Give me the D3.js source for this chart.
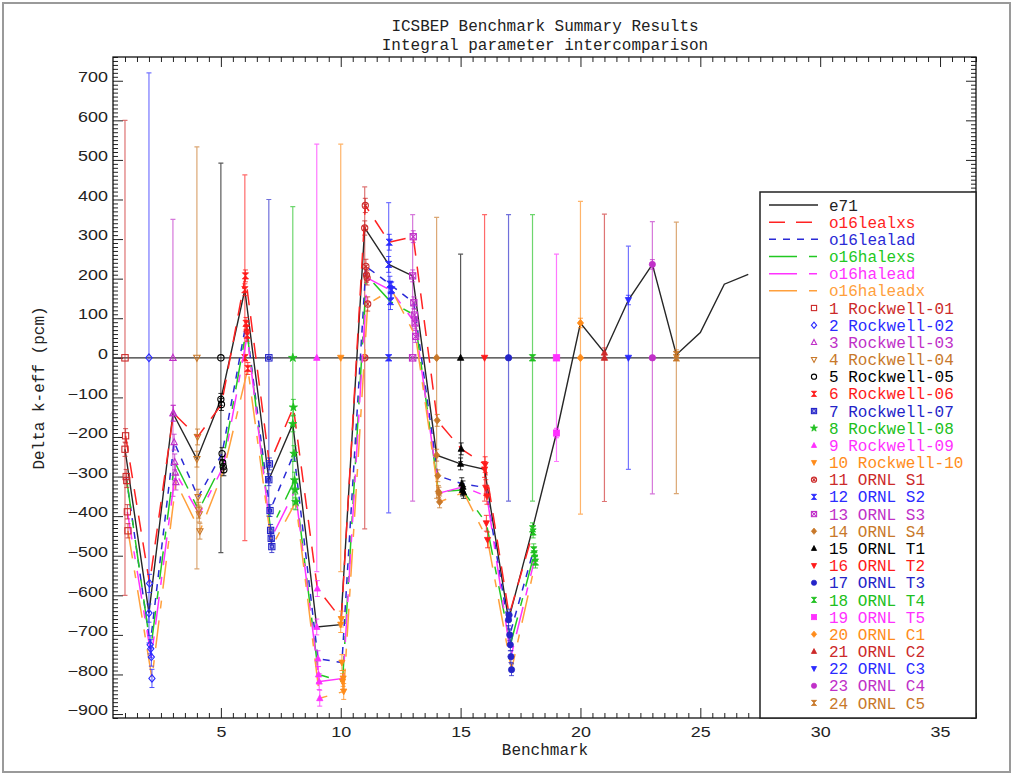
<!DOCTYPE html>
<html>
<head>
<meta charset="utf-8">
<script src="https://cdn.jsdelivr.net/npm/d3@7"></script>
<style>
  body { margin: 0; background: #fff; }
  svg text { font-family: "Liberation Mono", "DejaVu Sans Mono", monospace; }
  .tick text { font-family: "Liberation Sans", Arial, sans-serif; font-size: 14px; fill: #222; }
</style>
</head>
<body>
<script>
// ---- Benchmark names and experimental uncertainties (pcm) ----
const benchmarks = [
  "Rockwell-01", "Rockwell-02", "Rockwell-03", "Rockwell-04", "Rockwell-05",
  "Rockwell-06", "Rockwell-07", "Rockwell-08", "Rockwell-09", "Rockwell-10",
  "ORNL S1", "ORNL S2", "ORNL S3", "ORNL S4",
  "ORNL T1", "ORNL T2", "ORNL T3", "ORNL T4", "ORNL T5",
  "ORNL C1", "ORNL C2", "ORNL C3", "ORNL C4", "ORNL C5"
];
const expUnc = [600, 720, 350, 533, 492, 462, 400, 382, 540, 540, 432, 392,
                362, 355, 262, 362, 362, 362, 262, 395, 363, 282, 344, 343];

// ---- Calculated minus experimental k-eff (pcm), one array per library ----
const libraries = ["e71", "o16lealxs", "o16lealad", "o16halexs", "o16halead", "o16haleadx"];
const e71        = [-231, -645, -140, -256, -105, 172, -308, -167, -680, -674, 328, 236,
                    207, -246, -268, -282, -662, -432, -190, 88, 13, 146, 236, 8, 64, 186, 211];
const o16lealxs  = [-197, -570, -140, -200, -118, 207, -268, -125, -583, -660, 385, 292,
                    306, -158, -230, -270, -650, -440];
const o16lealad  = [-300, -725, -213, -352, -242, 87, -386, -242, -760, -770, 231, 186,
                    139, -298, -318, -328, -700, -485];
const o16halexs  = [-310, -735, -263, -385, -265, 75, -436, -309, -800, -818, 209, 142,
                    108, -338, -334, -418, -725, -495];
const o16halead  = [-389, -756, -290, -395, -275, 57, -456, -334, -818, -810, 202, 170,
                    88, -342, -326, -350, -755, -506];
const o16haleadx = [-437, -810, -314, -438, -283, -27, -477, -364, -860, -843, 136, 172,
                    54, -364, -340, -460, -788, -516];
// statistical uncertainty of the calculations (pcm)
const calcUnc = [18, 23, 20, 20, 15, 15, 15, 20, 20, 20, 18, 20,
                 15, 15, 15, 20, 15, 15, 12, 12, 12, 12, 12, 12];

// ---- Axis ticks ----
const xMajorTicks = [5, 10, 15, 20, 25, 30, 35];
const yMajorTicks = d3.range(-900, 701, 100);

// ---- Styling ----
const benchColors = ["#cc2a2a", "#2b2bff", "#c030c8", "#c8782a", "#000000",
                     "#ff1a1a", "#2424c8", "#20c020", "#ff30ff", "#ff8c1a"];
const benchSymbols = ["square", "diamond", "triangle", "triDown", "circle",
  "hourglass", "dblSquare", "star", "triFill", "triDownFill",
  "circleX", "hourglass", "squareX", "diamondFill", "triFill", "triDownFill",
  "circleFill", "hourglass", "squareFill", "diamondFill", "triFill", "triDownFill",
  "circleFill", "hourglass"];
const libColors = ["#262626", "#ff2222", "#2a2ad6", "#22c822", "#ff33ff", "#ffa03c"];
const libDash = [null, "16,11", "7,7", "28,12,8,12", "28,12,8,12", "28,12,8,12"];
const libSeries = [e71, o16lealxs, o16lealad, o16halexs, o16halead, o16haleadx];

const W = 1014, H = 776;
const M = { left: 113, right: 976, top: 57, bottom: 718 };

const svg = d3.select("body").append("svg").attr("width", W).attr("height", H);
svg.append("rect").attr("x", 3).attr("y", 3).attr("width", 1007).attr("height", 769)
  .attr("fill", "#fff").attr("stroke", "#9a9a9a").attr("stroke-width", 2);

const x = d3.scaleLinear().domain([0.5, 36.5]).range([M.left, M.right]);
const y = d3.scaleLinear().domain([-910, 760]).range([M.bottom, M.top]);

const colorOf = i => benchColors[i % benchColors.length];

// ---- Titles ----
svg.append("text").attr("x", 545).attr("y", 31).attr("text-anchor", "middle")
  .attr("font-size", 16).attr("fill", "#222").text("ICSBEP Benchmark Summary Results");
svg.append("text").attr("x", 545).attr("y", 50).attr("text-anchor", "middle")
  .attr("font-size", 16).attr("fill", "#222").text("Integral parameter intercomparison");

// ---- Axes (ticks point inward) ----
const axes = svg.append("g").attr("stroke-width", 1);
function minorTicks(step, lo, hi, majors) {
  return d3.range(lo, hi + 1e-9, step).filter(v => !majors.some(m => Math.abs(m - v) < 1e-6));
}
const xMinor = minorTicks(0.5, 1, 36.5, xMajorTicks);
const yMinor = minorTicks(10, -910, 760, yMajorTicks);

axes.append("g").attr("transform", `translate(0,${M.bottom})`)
  .call(d3.axisBottom(x).tickValues(xMinor).tickSize(-5).tickSizeOuter(0).tickFormat(""));
const xAx = axes.append("g").attr("transform", `translate(0,${M.bottom})`)
  .call(d3.axisBottom(x).tickValues(xMajorTicks).tickSize(-10).tickSizeOuter(0).tickPadding(9).tickFormat(d3.format("d")));
xAx.selectAll("text").attr("transform", "scale(1.28,1)");
axes.append("g").attr("transform", `translate(0,${M.top})`)
  .call(d3.axisTop(x).tickValues(xMinor).tickSize(-5).tickSizeOuter(0).tickFormat(""));
axes.append("g").attr("transform", `translate(0,${M.top})`)
  .call(d3.axisTop(x).tickValues(xMajorTicks).tickSize(-10).tickSizeOuter(0).tickFormat(""));
axes.append("g").attr("transform", `translate(${M.left},0)`)
  .call(d3.axisLeft(y).tickValues(yMinor).tickSize(-5).tickSizeOuter(0).tickFormat(""));
const yAx = axes.append("g").attr("transform", `translate(${M.left},0)`)
  .call(d3.axisLeft(y).tickValues(yMajorTicks).tickSize(-10).tickSizeOuter(0).tickPadding(4).tickFormat(d3.format("d")));
yAx.selectAll("text").attr("dy", "0.05em").attr("transform", "scale(1.28,1)");
axes.append("g").attr("transform", `translate(${M.right},0)`)
  .call(d3.axisRight(y).tickValues(yMinor).tickSize(-5).tickSizeOuter(0).tickFormat(""));
axes.append("g").attr("transform", `translate(${M.right},0)`)
  .call(d3.axisRight(y).tickValues(yMajorTicks).tickSize(-10).tickSizeOuter(0).tickFormat(""));
axes.selectAll(".domain").remove();
axes.selectAll(".tick line").attr("stroke", "#222");

svg.append("rect").attr("x", M.left).attr("y", M.top)
  .attr("width", M.right - M.left).attr("height", M.bottom - M.top)
  .attr("fill", "none").attr("stroke", "#111").attr("stroke-width", 1.3);

// axis titles
svg.append("text").attr("x", 545).attr("y", 755).attr("text-anchor", "middle")
  .attr("font-size", 16).attr("fill", "#222").text("Benchmark");
svg.append("text").attr("transform", "translate(44,388) rotate(-90)").attr("text-anchor", "middle")
  .attr("font-size", 16).attr("fill", "#222").text("Delta k-eff (pcm)");

// ---- Marker drawing ----
function drawSymbol(g, type, cx, cy, r, color) {
  const s = g.append("g").attr("transform", `translate(${cx},${cy})`);
  const open = { fill: "none", stroke: color, "stroke-width": 1.1 };
  const solid = { fill: color, stroke: color, "stroke-width": 0.8 };
  const put = (el, st) => { Object.entries(st).forEach(([k, v]) => el.attr(k, v)); return el; };
  const tri = `M0,${-r * 1.1}L${r},${r * 0.8}L${-r},${r * 0.8}Z`;
  const triD = `M0,${r * 1.1}L${r},${-r * 0.8}L${-r},${-r * 0.8}Z`;
  const dia = `M0,${-r * 1.2}L${r},0L0,${r * 1.2}L${-r},0Z`;
  switch (type) {
    case "square": put(s.append("rect").attr("x", -r).attr("y", -r).attr("width", 2 * r).attr("height", 2 * r), open); break;
    case "diamond": put(s.append("path").attr("d", dia), open); break;
    case "triangle": put(s.append("path").attr("d", tri), open); break;
    case "triDown": put(s.append("path").attr("d", triD), open); break;
    case "circle": put(s.append("circle").attr("r", r), open); break;
    case "hourglass": put(s.append("path").attr("d", `M${-r},${-r}L${r},${-r}L${-r},${r}L${r},${r}Z`), solid); break;
    case "dblSquare":
      put(s.append("rect").attr("x", -r).attr("y", -r).attr("width", 2 * r).attr("height", 2 * r), open);
      put(s.append("rect").attr("x", -r / 2).attr("y", -r / 2).attr("width", r).attr("height", r), open); break;
    case "star": put(s.append("path").attr("d", d3.symbol(d3.symbolStar, r * r * 2.2)()), solid); break;
    case "triFill": put(s.append("path").attr("d", tri), solid); break;
    case "triDownFill": put(s.append("path").attr("d", triD), solid); break;
    case "circleX":
      put(s.append("circle").attr("r", r), open);
      put(s.append("path").attr("d", `M${-r * 0.6},${-r * 0.6}L${r * 0.6},${r * 0.6}M${r * 0.6},${-r * 0.6}L${-r * 0.6},${r * 0.6}`), open); break;
    case "squareX":
      put(s.append("rect").attr("x", -r).attr("y", -r).attr("width", 2 * r).attr("height", 2 * r), open);
      put(s.append("path").attr("d", `M${-r},${-r}L${r},${r}M${r},${-r}L${-r},${r}`), open); break;
    case "diamondFill": put(s.append("path").attr("d", dia), solid); break;
    case "circleFill": put(s.append("circle").attr("r", r), solid); break;
    case "squareFill": put(s.append("rect").attr("x", -r).attr("y", -r).attr("width", 2 * r).attr("height", 2 * r), solid); break;
  }
}

function errBar(g, cx, lo, hi, color, width, opacity) {
  g.append("path")
    .attr("d", `M${cx},${y(lo)}V${y(hi)}M${cx - 2.5},${y(lo)}H${cx + 2.5}M${cx - 2.5},${y(hi)}H${cx + 2.5}`)
    .attr("fill", "none").attr("stroke", color).attr("stroke-width", width).attr("opacity", opacity);
}

const plot = svg.append("g");

// zero reference line
plot.append("line").attr("x1", M.left).attr("x2", M.right).attr("y1", y(0)).attr("y2", y(0))
  .attr("stroke", "#333").attr("stroke-width", 1.2);

// experimental points at zero with their uncertainties
benchmarks.forEach((b, i) => {
  errBar(plot, x(i + 1), -expUnc[i], expUnc[i], colorOf(i), 1.2, 0.65);
});
benchmarks.forEach((b, i) => drawSymbol(plot, benchSymbols[i], x(i + 1), y(0), 3.2, colorOf(i)));

// library curves
const libOffset = k => k * 0.025;
const line = d3.line().x(d => x(d[0])).y(d => y(d[1]));
libSeries.forEach((vals, k) => {
  plot.append("path")
    .datum(vals.map((v, i) => [i + 1 + libOffset(k), v]))
    .attr("d", line)
    .attr("fill", "none").attr("stroke", libColors[k])
    .attr("stroke-width", k === 0 ? 1.4 : 1.5)
    .attr("stroke-dasharray", libDash[k]);
});

// calculated points with uncertainties, coloured by benchmark
libSeries.forEach((vals, k) => {
  vals.forEach((v, i) => {
    if (i >= benchmarks.length) return;
    const cx = x(i + 1 + libOffset(k));
    errBar(plot, cx, v - calcUnc[i], v + calcUnc[i], colorOf(i), 1, 0.8);
    drawSymbol(plot, benchSymbols[i], cx, y(v), 3.1, colorOf(i));
  });
});

// ---- Legend ----
const lg = svg.append("g");
const LX = 760, LY = 192, LW = 216, LH = 526;
lg.append("rect").attr("x", LX).attr("y", LY).attr("width", LW).attr("height", LH)
  .attr("fill", "#fff").attr("stroke", "#222").attr("stroke-width", 1.5);
const rowY = i => 205 + i * 17.17;
libraries.forEach((name, k) => {
  lg.append("line").attr("x1", 769).attr("x2", 818).attr("y1", rowY(k)).attr("y2", rowY(k))
    .attr("stroke", libColors[k]).attr("stroke-width", 1.5).attr("stroke-dasharray", libDash[k]);
  lg.append("text").attr("x", 829).attr("y", rowY(k)).attr("dy", "0.35em")
    .attr("font-size", 16).attr("fill", k === 0 ? "#222" : libColors[k]).text(name);
});
benchmarks.forEach((b, i) => {
  const ry = rowY(i + libraries.length);
  drawSymbol(lg, benchSymbols[i], 814, ry, 2.6, colorOf(i));
  lg.append("text").attr("x", 829).attr("y", ry).attr("dy", "0.35em")
    .attr("font-size", 16).attr("fill", colorOf(i)).text(`${i + 1} ${b}`);
});
</script>
</body>
</html>
